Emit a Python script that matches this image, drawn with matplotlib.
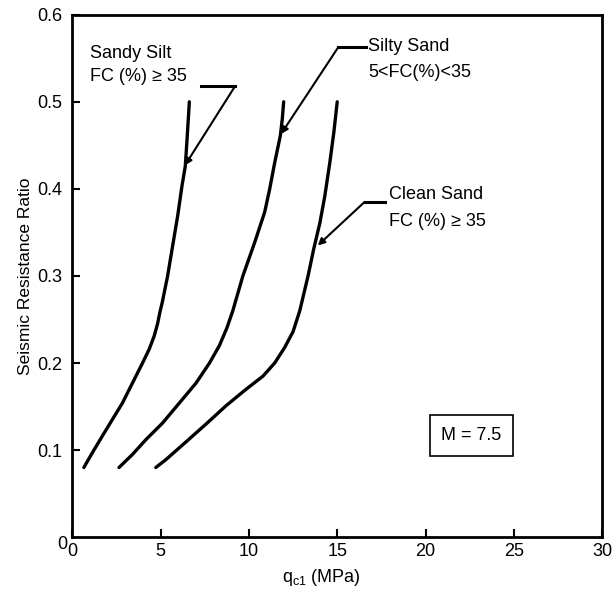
import matplotlib
matplotlib.use('Agg')
import matplotlib.pyplot as plt

plt.rcParams['font.family'] = ['Liberation Sans', 'DejaVu Sans']

# curves (qc1 in MPa, seismic resistance ratio)
silt_x = [0.66, 1.14, 1.70, 2.27, 2.84, 3.41, 3.98, 4.36, 4.64, 4.83, 4.96,
          5.10, 5.40, 5.68, 5.97, 6.21, 6.40, 6.50, 6.57, 6.63]
silt_y = [0.080, 0.097, 0.116, 0.135, 0.154, 0.177, 0.200, 0.216, 0.231, 0.245, 0.258,
          0.270, 0.300, 0.334, 0.369, 0.403, 0.426, 0.457, 0.480, 0.500]

silty_x = [2.65, 3.41, 4.17, 5.11, 6.06, 7.01, 7.77, 8.33, 8.75, 9.09, 9.66,
           10.32, 10.89, 11.17, 11.46, 11.78, 11.89, 11.97]
silty_y = [0.080, 0.095, 0.112, 0.131, 0.154, 0.177, 0.200, 0.220, 0.240, 0.260, 0.300,
           0.338, 0.373, 0.399, 0.430, 0.461, 0.480, 0.500]

clean_x = [4.73, 5.30, 6.25, 7.58, 8.71, 9.85, 10.80, 11.46, 12.03, 12.50, 12.88,
           13.35, 13.67, 14.02, 14.30, 14.58, 14.81, 15.00]
clean_y = [0.080, 0.089, 0.106, 0.130, 0.151, 0.170, 0.185, 0.200, 0.218, 0.236, 0.260,
           0.300, 0.331, 0.361, 0.392, 0.430, 0.465, 0.500]

# leader lines: (outer end of horizontal, knee, arrow tip)
leaders = [
    ((7.27, 0.518), (9.22, 0.518), (6.38, 0.427)),
    ((16.65, 0.563), (15.07, 0.563), (11.82, 0.463)),
    ((17.69, 0.385), (16.55, 0.385), (13.90, 0.335)),
]

fig = plt.figure(figsize=(6.12, 5.89), dpi=100)
ax = fig.add_axes([0.118, 0.088, 0.866, 0.887])

for xs, ys in [(silt_x, silt_y), (silty_x, silty_y), (clean_x, clean_y)]:
    ax.plot(xs, ys, color='black', lw=2.4, solid_capstyle='round',
            solid_joinstyle='round')

for (a, b, tip) in leaders:
    ax.plot([a[0], b[0]], [a[1], b[1]], color='black', lw=2.2)
    ax.annotate('', xy=tip, xytext=b,
                arrowprops=dict(arrowstyle='-|>', color='black', lw=1.5,
                                mutation_scale=10, shrinkA=0, shrinkB=0))

fs = 13
ax.text(1.02, 0.556, 'Sandy Silt', fontsize=fs, va='center')
ax.text(1.02, 0.529, 'FC (%) \u2265 35', fontsize=fs, va='center')
ax.text(16.75, 0.564, 'Silty Sand', fontsize=fs, va='center')
ax.text(16.75, 0.534, '5<FC(%)<35', fontsize=fs, va='center')
ax.text(17.94, 0.393, 'Clean Sand', fontsize=fs, va='center')
ax.text(17.94, 0.363, 'FC (%) \u2265 35', fontsize=fs, va='center')

ax.text(22.6, 0.117, 'M = 7.5', fontsize=fs, ha='center', va='center',
        bbox=dict(boxstyle='square,pad=0.65', fc='white', ec='black', lw=1.2))

ax.set_xlim(0, 30)
ax.set_ylim(0, 0.6)
ax.set_xticks([0, 5, 10, 15, 20, 25, 30])
ax.set_xticklabels(['0', '5', '10', '15', '20', '25', '30'])
ax.set_yticks([0.1, 0.2, 0.3, 0.4, 0.5, 0.6])
ax.set_yticklabels(['0.1', '0.2', '0.3', '0.4', '0.5', '0.6'])
ax.text(-0.009, -0.014, '0', transform=ax.transAxes, ha='right', va='center', fontsize=fs)

ax.tick_params(direction='in', length=6, width=1.5, labelsize=fs)
ax.tick_params(axis='y', pad=7)
ax.tick_params(axis='x', pad=4)
for s in ax.spines.values():
    s.set_linewidth(2)

ax.set_xlabel('q$_{\\mathregular{c1}}$ (MPa)', fontsize=fs, labelpad=5)
ax.xaxis.set_label_coords(0.47, -0.058)
ax.set_ylabel('Seismic Resistance Ratio', fontsize=12.5, labelpad=3)

fig.savefig('out.png', dpi=100)
